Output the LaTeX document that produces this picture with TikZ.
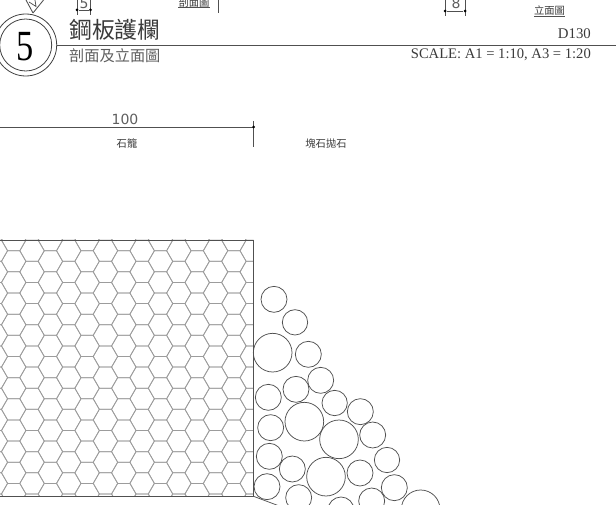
\documentclass[tikz,border=0pt]{standalone}
\usepackage{fontspec}
\setmainfont{Liberation Serif}
\newfontfamily\cjkfont{Noto Sans CJK TC}
\newfontfamily\dimfont{DejaVu Sans}
\definecolor{hexgrey}{HTML}{9C9C9C}
\definecolor{linegrey}{HTML}{505050}
\definecolor{textgrey}{HTML}{3A3A3A}
\definecolor{softgrey}{HTML}{5E5E5E}
\tikzset{
  hexline/.style={draw=hexgrey,line width=0.75pt},
  stoneline/.style={draw=linegrey,line width=0.75pt},
  frameline/.style={draw=linegrey,line width=0.85pt},
  dimdot/.style={circle,fill=black,inner sep=0pt,minimum size=3pt},
  lbl/.style={inner sep=0pt,text=textgrey},
  cjksmall/.style={lbl,font=\cjkfont\fontsize{10.3}{11}\selectfont},
  dimnum/.style={inner sep=0pt,text=softgrey,font=\dimfont\fontsize{14}{15}\selectfont}
}
\begin{document}
\begin{tikzpicture}[x=1pt,y=-1pt]
\useasboundingbox (0,0) rectangle (616,505);
\clip (0,0) rectangle (616,505);
% wire mesh
\begin{scope}
\clip (0,240) rectangle (253.5,496.3);
\foreach \j in {-1,...,7}{
  \foreach \k in {-1,...,12}{
    \foreach \cx/\cy in {{13.7+36.7*\j}/{261.3+21.15*\k},{32.05+36.7*\j}/{250.73+21.15*\k}}{
      \draw[hexline,line join=round] ({\cx-6.12},{\cy-10.575}) -- ({\cx+6.12},{\cy-10.575}) -- ({\cx+12.23},{\cy}) -- ({\cx+6.12},{\cy+10.575}) -- ({\cx-6.12},{\cy+10.575}) -- ({\cx-12.23},{\cy}) -- cycle;
    }
  }
}
\end{scope}
\coordinate (mtl) at (0,240);
\coordinate (mtr) at (253.5,240);
\coordinate (mbr) at (253.5,496.3);
\coordinate (mbl) at (0,496.3);
\coordinate (toe) at (278,505.5);
\draw[frameline] (mtl) -- (mtr) -- (mbr) -- (mbl);
\draw[stoneline] (mbr) -- (toe);
% rocks
\foreach \a/\b/\r in {102/88/39,165/157/38,98/248/58,205/253/39,242/331/39,168/358/39,85/382/39,284/399/38,361/425/39,193/455/58,92/473/39,297/508/58,398/495/39,88/559/39,441/570/38,157/597/39,258/620/58,360/609/39,81/650/39,463/653/39,176/683/39,395/693/39,303/720/39,542/718/58}{
  \draw[stoneline] ({240+\a/3},{270+\b/3}) circle[radius={\r/3}];
}
% dimension
\coordinate (dl) at (0,127);
\coordinate (dr) at (253.5,127);
\coordinate (dt) at (253.5,121);
\coordinate (db) at (253.5,147);
\draw[frameline] (dl) -- (dr);
\draw[frameline] (dt) -- (db);
\node[dimdot] (dd) at (dr) {};
\node[dimnum] (n100) at (125,119) {100};
\node[cjksmall] (l1) at (127,143.5) {石籠};
\node[cjksmall] (l2) at (326,143.5) {塊石拋石};
% title block
\coordinate (tl) at (56.5,45);
\coordinate (tr) at (616,45);
\draw[frameline] (tl) -- (tr);
\draw[line width=0.8pt,draw=black!75] (25.7,45) circle[radius=31];
\draw[line width=0.8pt,draw=black!75] (25.7,45) circle[radius=26];
\node[inner sep=0pt,xscale=0.8,font=\fontsize{43}{44}\selectfont] (num) at (25.5,47) {5};
\node[lbl,anchor=west,font=\cjkfont\fontsize{22.8}{24}\selectfont] (title) at (69,29.5) {鋼板護欄};
\node[inner sep=0pt,text=softgrey,anchor=west,font=\cjkfont\fontsize{15.2}{16}\selectfont] (sub) at (69,55.5) {剖面及立面圖};
\node[lbl,anchor=east,font=\fontsize{14.8}{16}\selectfont] (sheet) at (591,34) {D130};
\node[lbl,anchor=east,font=\fontsize{14.6}{16}\selectfont] (scale) at (591,54.5) {SCALE: A1 = 1:10, A3 = 1:20};
% top fragments
\coordinate (a1) at (77,0);\coordinate (a2) at (77,15);
\coordinate (b1) at (90.5,0);\coordinate (b2) at (90.5,15);
\draw[frameline] (a1) -- (a2);
\draw[frameline] (b1) -- (b2);
\node[dimdot] (c1) at (77,10) {};
\node[dimdot] (c2) at (90.5,10) {};
\draw[frameline] (c1) -- (c2);
\node[dimnum] (n5) at (84,3) {5};
\coordinate (e1) at (445,0);\coordinate (e2) at (445,16);
\coordinate (f1) at (465,0);\coordinate (f2) at (465,16);
\draw[frameline] (e1) -- (e2);
\draw[frameline] (f1) -- (f2);
\node[dimdot] (g1) at (445,11) {};
\node[dimdot] (g2) at (465,11) {};
\draw[frameline] (g1) -- (g2);
\node[dimnum] (n8) at (456,3.5) {8};
\coordinate (h1) at (218.5,0);\coordinate (h2) at (218.5,13);
\draw[frameline] (h1) -- (h2);
\node[cjksmall] (s1) at (194,2.5) {剖面圖};
\coordinate (u1) at (178,7);\coordinate (u2) at (210,7);
\draw[frameline] (u1) -- (u2);
\node[cjksmall] (s2) at (549.5,10.5) {立面圖};
\coordinate (v1) at (534,16);\coordinate (v2) at (565,16);
\draw[frameline] (v1) -- (v2);
% tag fragment
\coordinate (k0) at (33,13);
\coordinate (k1) at (26,0);
\coordinate (k2) at (46,-3);
\coordinate (k3) at (29,2);
\coordinate (k4) at (36,6.5);
\coordinate (k5) at (35,0);
\draw[frameline] (k0) -- (k1);
\draw[frameline] (k0) -- (k2);
\draw[stoneline] (k3) -- (k4) -- (k5);
\end{tikzpicture}
\end{document}
